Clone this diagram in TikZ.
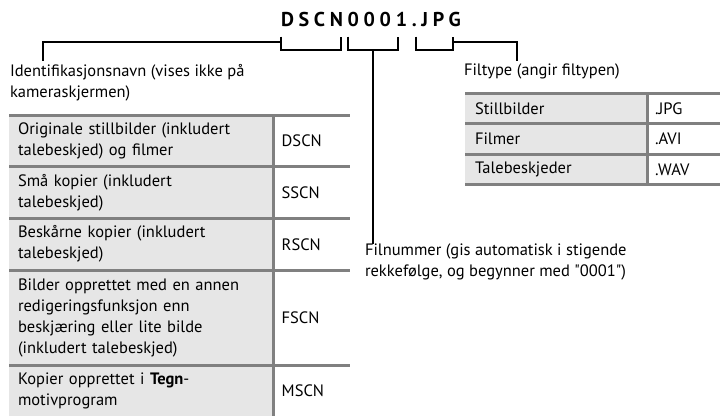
\documentclass[tikz,border=0pt]{standalone}
\usepackage{fontspec}
\setmainfont{PT Sans}
\newfontfamily\titlefont[LetterSpace=23.5]{PT Sans}
\usepackage{xcolor}
\usetikzlibrary{positioning}
\definecolor{rulegray}{HTML}{808080}
\definecolor{cellgray}{HTML}{E6E6E6}

\begin{document}
\begin{tikzpicture}[
  x=1pt, y=-1pt,
  font=\fontsize{16.5}{21}\selectfont,
  every node/.style={inner sep=0pt, outer sep=0pt},
  lead/.style={line width=2.3pt, black},
  tablerule/.style={line width=3pt, rulegray},
  note/.style={anchor=north west, align=left},
  namecell/.style={fill=cellgray, anchor=north west, align=left,
    text width=246.6pt, inner xsep=8.7pt},
  codecell/.style={anchor=north west, align=left,
    text width=59.9pt, inner xsep=8.4pt},
  typecell/.style={fill=cellgray, anchor=north west, align=left,
    text width=162.3pt, inner xsep=10pt, minimum height=30.5pt},
  extcell/.style={anchor=north west, align=left,
    text width=57.3pt, inner xsep=7.7pt, minimum height=30.5pt}
]
\useasboundingbox (0,0) rectangle (720,415);

\node[anchor=base west, font=\titlefont\fontsize{20}{20}\selectfont\bfseries] (title) at (281,26.5) {DSCN0001.JPG};

\node[note] (idnote) at (10,64.5) {Identifikasjonsnavn (vises ikke på\\kameraskjermen)};
\node[note] (typenote) at (464,64) {Filtype (angir filtypen)};
\node[note] (numnote) at (365,243.5) {Filnummer (gis automatisk i stigende\\rekkefølge, og begynner med \textquotedbl 0001\textquotedbl)};

% prefix table
\node[namecell, minimum height=51.7pt] (n1) at (9.3,115) {Originale stillbilder (inkludert\\talebeskjed) og filmer};
\node[codecell, minimum height=51.7pt, right=0pt of n1] (c1) {DSCN};
\node[namecell, minimum height=51.7pt, below=0pt of n1] (n2) {Små kopier (inkludert\\talebeskjed)};
\node[codecell, minimum height=51.7pt, right=0pt of n2] (c2) {SSCN};
\node[namecell, minimum height=51.7pt, below=0pt of n2] (n3) {Beskårne kopier (inkludert\\talebeskjed)};
\node[codecell, minimum height=51.7pt, right=0pt of n3] (c3) {RSCN};
\node[namecell, minimum height=95pt, below=0pt of n3] (n4) {Bilder opprettet med en annen\\redigeringsfunksjon enn\\beskjæring eller lite bilde\\(inkludert talebeskjed)};
\node[codecell, minimum height=95pt, right=0pt of n4] (c4) {FSCN};
\node[namecell, minimum height=51.7pt, below=0pt of n4] (n5) {Kopier opprettet i \textbf{Tegn}-\\motivprogram};
\node[codecell, minimum height=51.7pt, right=0pt of n5] (c5) {MSCN};
\foreach \r in {1,...,5}
  \draw[tablerule] (n\r.north west) -- (c\r.north east);
\draw[tablerule] (c1.north west) -- (c5.south west);

% file type table
\node[typecell] (t1) at (465,93) {Stillbilder};
\node[extcell, right=0pt of t1] (e1) {.JPG};
\node[typecell, below=0pt of t1] (t2) {Filmer};
\node[extcell, right=0pt of t2] (e2) {.AVI};
\node[typecell, below=0pt of t2] (t3) {Talebeskjeder};
\node[extcell, right=0pt of t3] (e3) {.WAV};
\foreach \r in {1,2,3}
  \draw[tablerule] (t\r.north west) -- (e\r.north east);
\draw[tablerule] (t3.south west) -- (e3.south east);
\draw[tablerule] (e1.north west) -- (e3.south west);

% brackets and leaders
\coordinate (dscnL) at (280.7,41.7);
\coordinate (jpgR) at (452.7,41.7);
\coordinate (numstem) at (372.7,50);
\coordinate (idtip) at (43,61);
\coordinate (typetip) at (517.3,61);
\draw[lead] (280.7,36.7) -- (280.7,50) -- (341,50) -- (341,36.7);
\draw[lead] (347.7,36.7) -- (347.7,50) -- (397.7,50) -- (397.7,36.7);
\draw[lead] (415.7,36.7) -- (415.7,50) -- (452.7,50) -- (452.7,36.7);
\draw[lead] (dscnL) -| (idtip);
\draw[lead] (jpgR) -| (typetip);
\draw[lead] (numstem) -- (numstem |- numnote.north) ++(0,-7);
\end{tikzpicture}
\end{document}
